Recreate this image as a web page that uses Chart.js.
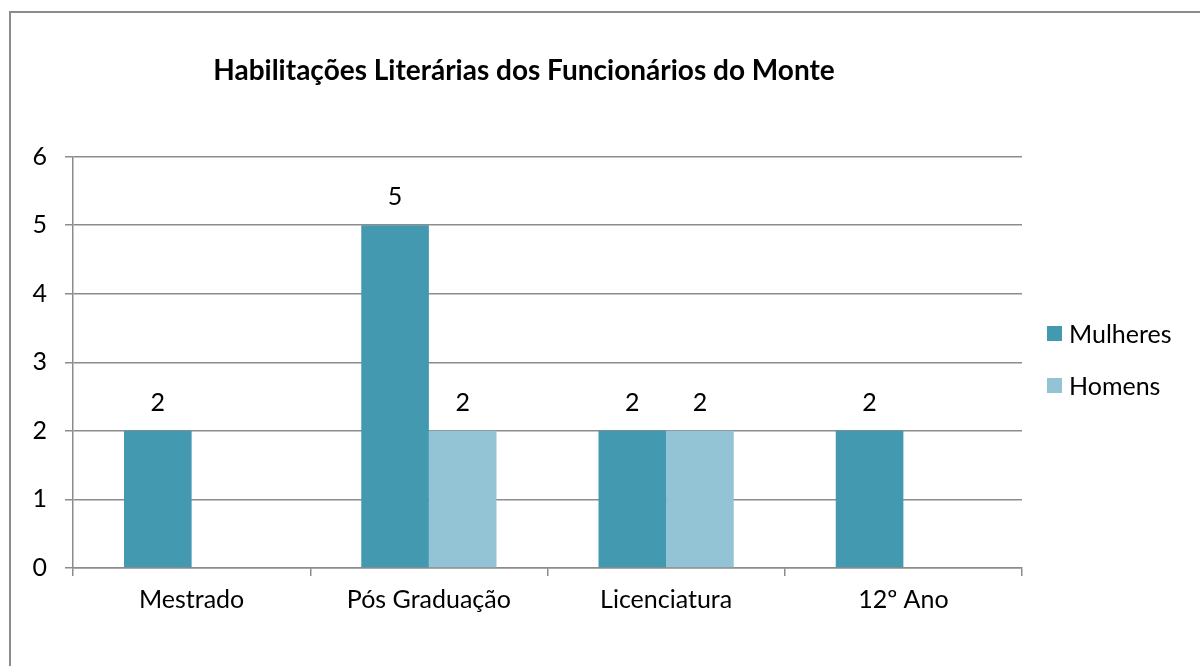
<!DOCTYPE html>
<html>
<head>
<meta charset="utf-8">
<script src="https://cdn.jsdelivr.net/npm/chart.js@4.4.1/dist/chart.umd.min.js"></script>
<style>
  html, body { margin: 0; padding: 0; background: #fff; overflow: hidden; }
  #wrap { position: relative; width: 1200px; height: 666px; }
  #frame { position: absolute; left: 9px; top: 11px; width: 1300px; height: 800px;
           border-left: 2px solid #8c8c8c; border-top: 2px solid #8c8c8c; box-sizing: border-box; }
  #chart { position: absolute; left: 0; top: 0; }
  #legend { position: absolute; left: 1047px; top: 318px; font-family: Lato, "Open Sans", sans-serif;
            font-size: 25px; color: #000; }
  #legend div { display: flex; align-items: center; height: 30px; margin-bottom: 22px; }
  #legend span.box { display: inline-block; width: 15px; height: 15px; margin-right: 7px; }
</style>
</head>
<body>
<div id="wrap">
  <div id="frame"></div>
  <canvas id="chart" width="1200" height="666"></canvas>
  <div id="legend"></div>
</div>
<script>
// Data
const categories = ['Mestrado', 'Pós Graduação', 'Licenciatura', '12º Ano'];
const mulheres = [2, 5, 2, 2];
const homens = [0, 2, 2, 0];
const seriesNames = ['Mulheres', 'Homens'];
const seriesColors = ['#4399b0', '#93c4d5'];

const fontFamily = 'Lato, "Open Sans", sans-serif';

// value labels above each bar
const valueLabels = {
    id: 'valueLabels',
    afterDatasetsDraw(chart) {
        const ctx = chart.ctx;
        ctx.save();
        ctx.font = '25px ' + fontFamily;
        ctx.fillStyle = '#000';
        ctx.textAlign = 'center';
        ctx.textBaseline = 'middle';
        chart.data.datasets.forEach((ds, i) => {
            chart.getDatasetMeta(i).data.forEach((bar, j) => {
                if (!ds.data[j]) return;
                ctx.fillText(String(ds.data[j]), bar.x, bar.y - 28);
            });
        });
        ctx.restore();
    }
};

const chart = new Chart(document.getElementById('chart'), {
    type: 'bar',
    data: {
        labels: categories,
        datasets: [
            { label: seriesNames[0], data: mulheres, backgroundColor: seriesColors[0] },
            { label: seriesNames[1], data: homens, backgroundColor: seriesColors[1] }
        ]
    },
    options: {
        responsive: false,
        animation: false,
        categoryPercentage: 0.57,
        barPercentage: 1.0,
        layout: { padding: { left: 26, right: 178, top: 0, bottom: 42 } },
        plugins: {
            legend: { display: false },
            tooltip: { enabled: false },
            title: {
                display: true,
                text: 'Habilitações Literárias dos Funcionários do Monte',
                color: '#000',
                font: { family: fontFamily, size: 28, weight: 'bold' },
                padding: { top: 54, bottom: 69 }
            }
        },
        scales: {
            x: {
                grid: { drawOnChartArea: false, drawTicks: true, tickLength: 8, color: '#8c8c8c', lineWidth: 1.5 },
                border: { display: true, color: '#8c8c8c', width: 1.5 },
                ticks: { color: '#000', padding: 9, font: { family: fontFamily, size: 25 } }
            },
            y: {
                min: 0,
                max: 6,
                afterFit(scale) { scale.width = 47; },
                grid: { color: '#8c8c8c', lineWidth: 1.5, tickLength: 8 },
                border: { display: true, color: '#8c8c8c', width: 1.5 },
                ticks: { stepSize: 1, color: '#000', padding: 18, font: { family: fontFamily, size: 25 } }
            }
        }
    },
    plugins: [valueLabels]
});

// HTML legend
const legendEl = document.getElementById('legend');
chart.data.datasets.forEach(ds => {
    const row = document.createElement('div');
    const box = document.createElement('span');
    box.className = 'box';
    box.style.background = ds.backgroundColor;
    row.appendChild(box);
    row.appendChild(document.createTextNode(ds.label));
    legendEl.appendChild(row);
});
</script>
</body>
</html>
